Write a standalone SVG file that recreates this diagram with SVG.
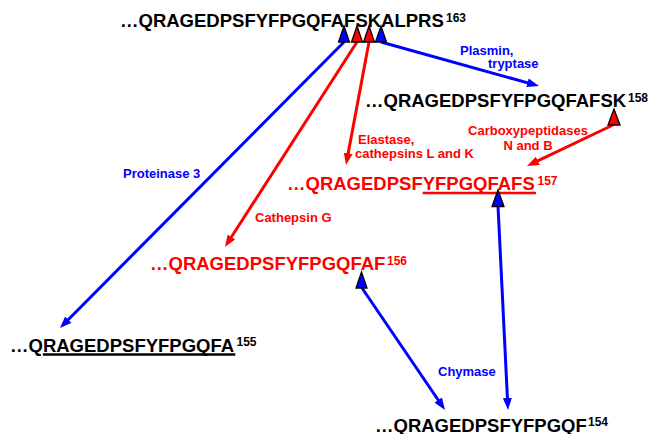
<svg xmlns="http://www.w3.org/2000/svg" width="651" height="434" viewBox="0 0 651 434">
<style>
text{font-family:"Liberation Sans",Arial,sans-serif;font-weight:bold}
.seq{font-size:18.5px}
.sup{font-size:12px}
.lbl{font-size:13px}
.blk{fill:#000}
.red{fill:#ff0000}
.blu{fill:#0000ff}
.cb{stroke:#0000ff;stroke-width:3;fill:none;marker-end:url(#ab)}
.cr{stroke:#ff0000;stroke-width:3;fill:none;marker-end:url(#ar)}
.tri{stroke:#000;stroke-width:1.3;stroke-linejoin:miter}
.ul{stroke-width:2.6}
</style>
<defs>
<marker id="ab" viewBox="0 0 12 9" refX="6" refY="4.5" markerWidth="12" markerHeight="9" markerUnits="userSpaceOnUse" orient="auto"><path d="M0,0 L12,4.5 L0,9 z" fill="#0000ff"/></marker>
<marker id="ar" viewBox="0 0 12 9" refX="6" refY="4.5" markerWidth="12" markerHeight="9" markerUnits="userSpaceOnUse" orient="auto"><path d="M0,0 L12,4.5 L0,9 z" fill="#ff0000"/></marker>
</defs>
<rect width="651" height="434" fill="#fff"/>
<g id="connectors">
<line class="cb" x1="344" y1="42" x2="64.2" y2="323.7"/>
<line class="cr" x1="357" y1="42" x2="228.2" y2="242"/>
<line class="cr" x1="369" y1="42" x2="347.1" y2="159.1"/>
<line class="cb" x1="381" y1="42" x2="533.2" y2="84.4"/>
<line class="cr" x1="613" y1="125" x2="532.4" y2="163.4"/>
<line class="cb" x1="362" y1="288" x2="441.6" y2="405"/>
<line class="cb" x1="498" y1="206" x2="507.7" y2="404"/>
</g>
<g id="labels">
<text class="lbl blu" x="123" y="178">Proteinase 3</text>
<text class="lbl red" x="255" y="221.5">Cathepsin G</text>
<text class="lbl red" x="358" y="144">Elastase,</text>
<text class="lbl red" x="355" y="158">cathepsins L and K</text>
<text class="lbl blu" x="460" y="55">Plasmin,</text>
<text class="lbl blu" x="488" y="67.5">tryptase</text>
<text class="lbl red" x="528" y="134.5" text-anchor="middle">Carboxypeptidases</text>
<text class="lbl red" x="528" y="149.5" text-anchor="middle">N and B</text>
<text class="lbl blu" x="438" y="375.5">Chymase</text>
</g>
<g id="node-163">
<text class="seq blk" x="120" y="27">…QRAGEDPSFYFPGQFAFSKALPRS</text>
<text class="sup blk" x="446" y="21.5">163</text>
<polygon class="tri" fill="#0000ff" points="338.5,42 349.5,42 344,26"/>
<polygon class="tri" fill="#ff0000" points="351.5,42 362.5,42 357,26"/>
<polygon class="tri" fill="#ff0000" points="363.5,42 374.5,42 369,26"/>
<polygon class="tri" fill="#0000ff" points="375.5,42 386.5,42 381,26"/>
</g>
<g id="node-158">
<text class="seq blk" x="365" y="107">…QRAGEDPSFYFPGQFAFSK</text>
<text class="sup blk" x="628" y="101.5">158</text>
<polygon class="tri" fill="#ff0000" points="608,125 620,125 614,109"/>
</g>
<g id="node-157">
<text class="seq red" x="287" y="190">…QRAGEDPSFYFPGQFAFS</text>
<text class="sup red" x="537.5" y="184.5">157</text>
<line class="ul" stroke="#ff0000" x1="422.7" y1="193" x2="536" y2="193"/>
<polygon class="tri" fill="#0000ff" points="492,206.5 504,206.5 498,190"/>
</g>
<g id="node-156">
<text class="seq red" x="150" y="270">…QRAGEDPSFYFPGQFAF</text>
<text class="sup red" x="387" y="264.5">156</text>
<polygon class="tri" fill="#0000ff" points="356,288 367,288 361.5,272"/>
</g>
<g id="node-155">
<text class="seq blk" x="10" y="351.5">…QRAGEDPSFYFPGQFA</text>
<text class="sup blk" x="236.5" y="346">155</text>
<line class="ul" stroke="#000" x1="42.9" y1="354.5" x2="235.3" y2="354.5"/>
</g>
<g id="node-154">
<text class="seq blk" x="375" y="431.5">…QRAGEDPSFYFPGQF</text>
<text class="sup blk" x="588" y="426">154</text>
</g>
</svg>
